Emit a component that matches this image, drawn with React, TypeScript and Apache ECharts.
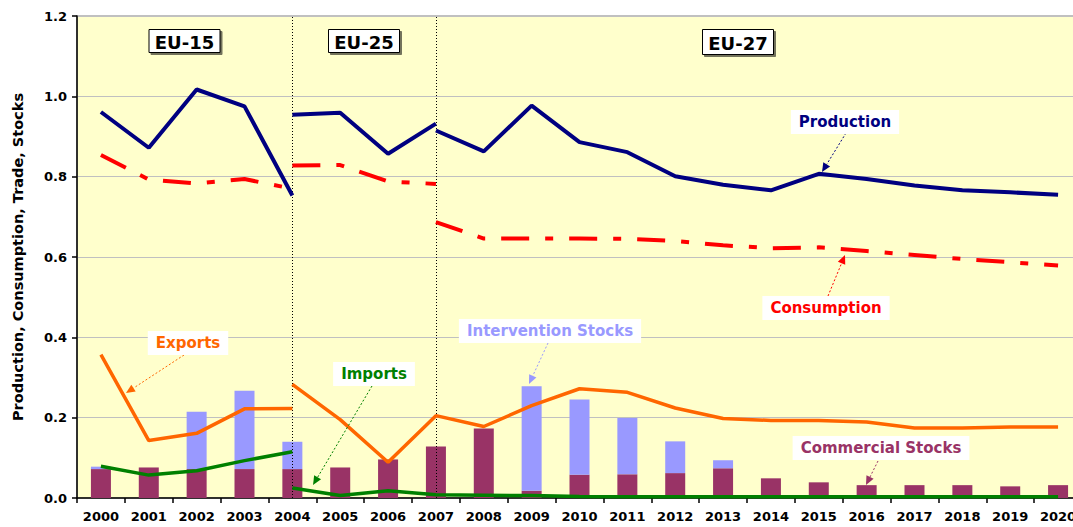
import React, { useEffect, useRef } from "react";
import * as echarts from "echarts";

const years = ["2000","2001","2002","2003","2004","2005","2006","2007","2008","2009","2010","2011","2012","2013","2014","2015","2016","2017","2018","2019","2020"];

// Production (EU-15: 2000-2004, EU-25: 2004-2007, EU-27: 2007-2020)
const productionEU15 = [0.961, 0.872, 1.017, 0.975, 0.753];
const productionEU25 = [0.954, 0.959, 0.857, 0.932];
const productionEU27 = [0.915, 0.863, 0.977, 0.886, 0.861, 0.801, 0.780, 0.766, 0.807, 0.794, 0.778, 0.766, 0.761, 0.755];

// Consumption
const consumptionEU15 = [0.854, 0.793, 0.783, 0.794, 0.770];
const consumptionEU25 = [0.828, 0.829, 0.788, 0.782];
const consumptionEU27 = [0.687, 0.646, 0.646, 0.646, 0.645, 0.640, 0.629, 0.622, 0.624, 0.615, 0.605, 0.595, 0.587, 0.579];

// Exports (EU-15: 2000-2004, EU-25/27: 2004-2020)
const exportsEU15 = [0.357, 0.143, 0.161, 0.222, 0.223];
const exportsEU25_27 = [0.283, 0.195, 0.089, 0.205, 0.178, 0.230, 0.272, 0.263, 0.224, 0.198, 0.193, 0.193, 0.189, 0.174, 0.174, 0.177, 0.177];

// Imports
const importsEU15 = [0.079, 0.057, 0.068, 0.093, 0.115];
const importsEU25_27 = [0.025, 0.006, 0.018, 0.008, 0.007, 0.006, 0.004, 0.003, 0.003, 0.003, 0.003, 0.003, 0.003, 0.003, 0.003, 0.003, 0.003];

// Stocks (stacked bars)
const commercialStocks = [0.072, 0.076, 0.072, 0.072, 0.072, 0.076, 0.096, 0.128, 0.173, 0.018, 0.058, 0.059, 0.062, 0.074, 0.049, 0.039, 0.032, 0.032, 0.032, 0.029, 0.032];
const interventionStocks = [0.006, 0, 0.143, 0.195, 0.068, 0, 0, 0, 0, 0.260, 0.187, 0.140, 0.079, 0.020, 0, 0, 0, 0, 0, 0, 0];

const yTicks = [0, 0.2, 0.4, 0.6, 0.8, 1.0, 1.2];

const FONT = '"DejaVu Sans", "Liberation Sans", Arial, sans-serif';

const pad = (arr: number[], start: number) =>
  years.map((_, i) => (i >= start && i < start + arr.length ? arr[i - start] : null));

const C = {
  production: "#000080",
  consumption: "#FF0000",
  exports: "#FF6600",
  imports: "#008000",
  intervention: "#9999FF",
  commercial: "#993366",
};

function arrowGraphic(x1: number, y1: number, x2: number, y2: number, color: string) {
  const ang = Math.atan2(y2 - y1, x2 - x1);
  const L = 9, W = 4;
  const cos = Math.cos(ang), sin = Math.sin(ang);
  const bx = x2 - L * cos, by = y2 - L * sin;
  return [
    {
      type: "line",
      z: 100,
      shape: { x1, y1, x2: bx, y2: by },
      style: { stroke: color, lineWidth: 1, lineDash: [2, 2] },
    },
    {
      type: "polygon",
      z: 100,
      shape: { points: [[x2, y2], [bx - W * sin, by + W * cos], [bx + W * sin, by - W * cos]] },
      style: { fill: color },
    },
  ];
}

function labelGraphic(text: string, x: number, y: number, color: string) {
  return {
    type: "text",
    z: 101,
    x,
    y,
    style: {
      text,
      align: "center",
      verticalAlign: "middle",
      font: `bold 15px ${FONT}`,
      fill: color,
      backgroundColor: "#FFFFFF",
      padding: [5, 8, 4, 8],
    },
  };
}

function euBox(text: string, cx: number, cy: number, w: number, h: number) {
  return {
    type: "group",
    z: 102,
    children: [
      {
        type: "rect",
        z: 102,
        shape: { x: cx - w / 2, y: cy - h / 2, width: w, height: h },
        style: {
          fill: "#FFFFFF",
          stroke: "#000000",
          lineWidth: 1,
          shadowColor: "rgba(0,0,0,0.55)",
          shadowOffsetX: 2,
          shadowOffsetY: 2,
          shadowBlur: 0,
        },
      },
      {
        type: "text",
        z: 103,
        x: cx,
        y: cy + 1,
        style: {
          text,
          align: "center",
          verticalAlign: "middle",
          font: `bold 18px ${FONT}`,
          fill: "#000000",
        },
      },
    ],
  };
}

export default function App() {
  const ref = useRef<HTMLDivElement>(null);

  useEffect(() => {
    if (!ref.current) return;
    const chart = echarts.init(ref.current, undefined, { renderer: "svg" });

    const lineSeries = (name: string, data: (number | null)[], color: string, width: number, type: any = "solid") => ({
      name,
      type: "line",
      data,
      symbol: "none",
      connectNulls: false,
      z: 5,
      lineStyle: { color, width, type, cap: "butt" },
      itemStyle: { color },
    });

    const graphics: any[] = [
      euBox("EU-15", 184.5, 41, 71, 23),
      euBox("EU-25", 364, 41, 71, 23),
      euBox("EU-27", 738, 42, 71, 25),
      labelGraphic("Production", 845, 122, C.production),
      ...arrowGraphic(846, 133, 822, 172, C.production),
      labelGraphic("Consumption", 826, 308, C.consumption),
      ...arrowGraphic(828, 296, 845, 255, C.consumption),
      labelGraphic("Exports", 188, 343, C.exports),
      ...arrowGraphic(184, 355, 126, 393, C.exports),
      labelGraphic("Imports", 374, 374, C.imports),
      ...arrowGraphic(372, 386, 313, 485, C.imports),
      labelGraphic("Intervention Stocks", 550, 331, C.intervention),
      ...arrowGraphic(548, 343, 529, 384, C.intervention),
      labelGraphic("Commercial Stocks", 881, 448, C.commercial),
      ...arrowGraphic(878, 461, 866, 485, C.commercial),
    ];

    chart.setOption({
      animation: false,
      backgroundColor: "#FFFFFF",
      textStyle: { fontFamily: FONT },
      grid: {
        left: 77,
        top: 16,
        width: 1005,
        height: 482,
        show: true,
        backgroundColor: "#FFFFCC",
        borderColor: "#808080",
        borderWidth: 1,
        containLabel: false,
      },
      xAxis: {
        type: "category",
        data: years,
        boundaryGap: true,
        axisLine: { show: true, lineStyle: { color: "#000000", width: 1.5 } },
        axisTick: { show: true, interval: 0, length: 5, lineStyle: { color: "#000000", width: 1.5 } },
        axisLabel: {
          interval: 0,
          margin: 12,
          color: "#000000",
          fontFamily: FONT,
          fontWeight: "bold",
          fontSize: 13,
        },
        splitLine: { show: false },
      },
      yAxis: {
        type: "value",
        min: yTicks[0],
        max: yTicks[yTicks.length - 1],
        interval: 0.2,
        name: "Production, Consumption, Trade, Stocks",
        nameLocation: "middle",
        nameGap: 52,
        nameTextStyle: { color: "#000000", fontFamily: FONT, fontWeight: "bold", fontSize: 14.5 },
        axisLine: { show: true, lineStyle: { color: "#000000", width: 1.5 } },
        axisTick: { show: true, length: 5, lineStyle: { color: "#000000", width: 1.5 } },
        axisLabel: {
          margin: 10,
          color: "#000000",
          fontFamily: FONT,
          fontWeight: "bold",
          fontSize: 13,
          formatter: (v: number) => v.toFixed(1),
        },
        splitLine: { show: true, lineStyle: { color: "#C0C0C0", width: 1 } },
      },
      series: [
        {
          name: "Commercial Stocks",
          type: "bar",
          stack: "stocks",
          data: commercialStocks,
          barWidth: 20,
          itemStyle: { color: C.commercial },
          z: 2,
          markLine: {
            silent: true,
            symbol: "none",
            label: { show: false },
            lineStyle: { type: [1, 2], color: "#000000", width: 1 },
            data: [{ xAxis: "2004" }, { xAxis: "2007" }],
            z: 3,
          },
        },
        {
          name: "Intervention Stocks",
          type: "bar",
          stack: "stocks",
          data: interventionStocks,
          barWidth: 20,
          itemStyle: { color: C.intervention },
          z: 2,
        },
        lineSeries("Exports EU-15", pad(exportsEU15, 0), C.exports, 3.5),
        lineSeries("Exports EU-25/27", pad(exportsEU25_27, 4), C.exports, 3.5),
        lineSeries("Imports EU-15", pad(importsEU15, 0), C.imports, 3.5),
        lineSeries("Imports EU-25/27", pad(importsEU25_27, 4), C.imports, 3.5),
        lineSeries("Consumption EU-15", pad(consumptionEU15, 0), C.consumption, 4, [28, 16, 8, 16]),
        lineSeries("Consumption EU-25", pad(consumptionEU25, 4), C.consumption, 4, [28, 16, 8, 16]),
        lineSeries("Consumption EU-27", pad(consumptionEU27, 7), C.consumption, 4, [28, 16, 8, 16]),
        lineSeries("Production EU-15", pad(productionEU15, 0), C.production, 4),
        lineSeries("Production EU-25", pad(productionEU25, 4), C.production, 4),
        lineSeries("Production EU-27", pad(productionEU27, 7), C.production, 4),
      ],
      graphic: graphics,
    });

    return () => {
      chart.dispose();
    };
  }, []);

  return (
    <div
      ref={ref}
      style={{ position: "fixed", left: 0, top: 0, width: 1095, height: 527, background: "#FFFFFF" }}
    />
  );
}
